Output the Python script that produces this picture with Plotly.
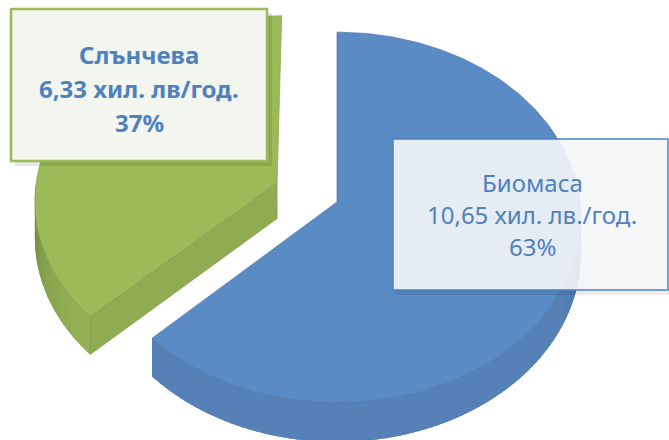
import numpy as np
import plotly.graph_objects as go

# ---- data ----
categories = ["Биомаса", "Слънчева"]
values = [10.65, 6.33]
value_labels = ["10,65 хил. лв./год.", "6,33 хил. лв/год."]

total = sum(values)
percents = [f"{round(v / total * 100)}%" for v in values]

# ---- style / geometry ----
top_rgb = [(91, 139, 196), (155, 187, 89)]
pulls = [0.0, 0.27]
CX, CY = 337.0, 202.0
A, B = 243.0, 184.0
K = 12.0
T = 36.0


def proj(X, Z, depth=0.0):
    s = 1.0 / (1.0 + Z / K)
    return CX + A * X * s, CY - B * Z * s + depth * T * s


def rgb(c, f=1.0):
    return "rgb(%d,%d,%d)" % tuple(max(0, min(255, int(round(v * f)))) for v in c)


def wall_factor(i, th, a0):
    if i == 0:
        f = 0.93
        if th < 118:
            f -= 0.34 * ((118 - th) / 28.0) ** 1.6
        return f
    else:
        u = max(0.0, min(1.0, (th - a0) / 44.0))
        return 0.95 - 0.25 * u ** 1.5


def poly(fig, pts, fill, line_col=None, lw=0.0):
    xs = [q[0] for q in pts] + [pts[0][0]]
    ys = [q[1] for q in pts] + [pts[0][1]]
    fig.add_trace(go.Scatter(
        x=xs, y=ys, mode="lines", fill="toself", fillcolor=fill,
        line=dict(color=line_col or fill, width=lw), hoverinfo="skip"))


fig = go.Figure()

# angles (clockwise from 12 o'clock)
bounds = []
acc = 0.0
for v in values:
    a0 = acc / total * 360.0
    acc += v
    a1 = acc / total * 360.0
    bounds.append((a0, a1))

order = [1, 0]  # back slice first
for i in order:
    a0, a1 = bounds[i]
    mid = np.radians((a0 + a1) / 2)
    ox, oz = pulls[i] * np.sin(mid), pulls[i] * np.cos(mid)

    def rim(t, d):
        r = np.radians(t)
        return proj(ox + np.sin(r), oz + np.cos(r), d)

    # outer wall (visible where facing viewer: 90..270)
    lo, hi = max(a0, 90.0), min(a1, 270.0)
    if hi > lo:
        ts = np.linspace(lo, hi, 150)
        base = [rim(t, 0) for t in ts] + [rim(t, 1) for t in ts[::-1]]
        poly(fig, base, rgb(top_rgb[i], wall_factor(i, (lo + hi) / 2 + 30, a0)))
        edges = np.linspace(lo, hi, int((hi - lo) / 1.5) + 2)
        for t1, t2 in zip(edges[:-1], edges[1:]):
            t2e = min(hi, t2 + 0.6)
            p = [rim(t1, 0), rim(t2e, 0), rim(t2e, 1), rim(t1, 1)]
            col = rgb(top_rgb[i], wall_factor(i, (t1 + t2) / 2, a0))
            poly(fig, p, col)

    # cut faces
    for ang, nrm in ((a0, a0 - 90), (a1, a1 + 90)):
        if np.cos(np.radians(nrm)) < -1e-6:
            p = [proj(ox, oz, 0), rim(ang, 0), rim(ang, 1), proj(ox, oz, 1)]
            poly(fig, p, rgb(top_rgb[i], 0.92), rgb(top_rgb[i], 0.82), 0.7)

    # top face
    ts = np.linspace(a0, a1, 220)
    pts = [proj(ox, oz, 0)] + [rim(t, 0) for t in ts]
    poly(fig, pts, rgb(top_rgb[i]), rgb(top_rgb[i], 0.85), 0.7)

# ---- label boxes ----
shapes = [
    dict(type="rect", x0=15, y0=13, x1=272, y1=166, line=dict(width=0),
         fillcolor="rgba(0,0,0,0.10)", layer="above"),
    dict(type="rect", x0=11, y0=9, x1=267, y1=161,
         line=dict(color="#9bbb59", width=2.5), fillcolor="#f3f5ef", layer="above"),
    dict(type="rect", x0=395, y0=142, x1=672, y1=295, line=dict(width=0),
         fillcolor="rgba(0,0,0,0.08)", layer="above"),
    dict(type="rect", x0=393, y0=139, x1=668, y1=290,
         line=dict(color="#4f81bd", width=1.5), fillcolor="rgba(245,247,250,0.9)",
         layer="above"),
]

annotations = []
box_lines = {
    1: (139, [54, 88, 122], True),
    0: (532, [182, 214, 246], False),
}
for i in (1, 0):
    cx, ylist, bold = box_lines[i]
    lines = [categories[i], value_labels[i], percents[i]]
    for txt, yy in zip(lines, ylist):
        annotations.append(dict(
            x=cx, y=yy, xref="x", yref="y", showarrow=False,
            text=f"<b>{txt}</b>" if bold else txt,
            font=dict(family="Noto Sans", size=24, color="#4f81bd"),
            xanchor="center", yanchor="middle"))

fig.update_layout(
    width=669, height=440, margin=dict(l=0, r=0, t=0, b=0),
    paper_bgcolor="white", plot_bgcolor="white", showlegend=False,
    xaxis=dict(range=[0, 669], visible=False, fixedrange=True),
    yaxis=dict(range=[440, 0], visible=False, fixedrange=True),
    shapes=shapes, annotations=annotations, hovermode=False,
)

fig.write_html("out.html", config={"displayModeBar": False},
               post_script="document.body.style.margin='0';document.body.style.overflow='hidden';")
